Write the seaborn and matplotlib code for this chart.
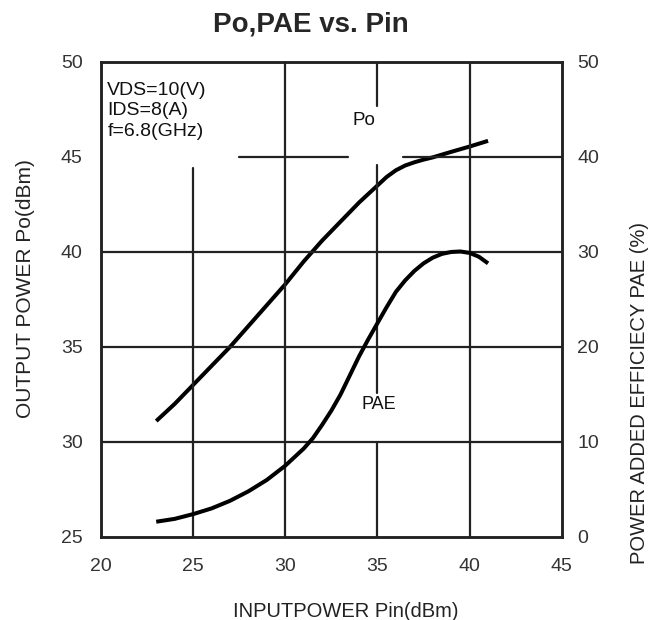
import matplotlib
matplotlib.use("Agg")
import matplotlib.pyplot as plt
import seaborn as sns
import pandas as pd

sns.set_theme(style="white")
plt.rcParams['font.family'] = ['Liberation Sans', 'DejaVu Sans']

# Data
pin_po = [23, 24, 25, 26, 27, 28, 29, 30, 31, 32, 33, 34, 35, 35.5, 36, 36.5,
          37, 37.5, 38, 39, 40, 41]
po_dbm = [31.1, 32.0, 33.0, 34.0, 35.0, 36.1, 37.2, 38.3, 39.5, 40.6, 41.6, 42.6,
          43.5, 43.95, 44.3, 44.55, 44.72, 44.86, 44.98, 45.27, 45.55, 45.85]
pin_pae = [23, 24, 25, 26, 27, 28, 29, 30, 31, 31.5, 32, 32.5, 33, 33.5, 34,
           34.5, 35, 35.5, 36, 36.5, 37, 37.5, 38, 38.5, 39, 39.5, 40, 40.5, 41]
pae_pct = [1.6, 1.9, 2.4, 3.0, 3.8, 4.8, 6.0, 7.5, 9.3, 10.4, 11.8, 13.3, 15.0,
           17.0, 19.0, 20.8, 22.5, 24.2, 25.8, 27.0, 28.0, 28.8, 29.4, 29.8,
           30.0, 30.05, 29.9, 29.5, 28.8]

x_ticks = [20, 25, 30, 35, 40, 45]
po_ticks = [25, 30, 35, 40, 45, 50]
pae_ticks = [0, 10, 20, 30, 40, 50]

df_po = pd.DataFrame({"Pin": pin_po, "Po": po_dbm})
df_pae = pd.DataFrame({"Pin": pin_pae, "PAE": pae_pct})

fig = plt.figure(figsize=(6.51, 6.20), dpi=100)
ax = fig.add_axes([0.155, 0.134, 0.708, 0.766])
ax2 = ax.twinx()

sns.lineplot(data=df_po, x="Pin", y="Po", ax=ax, color="black", linewidth=2.9,
             solid_capstyle="butt", solid_joinstyle="round")
sns.lineplot(data=df_pae, x="Pin", y="PAE", ax=ax2, color="black", linewidth=2.9,
             solid_capstyle="butt", solid_joinstyle="round")

ax.set_xlim(20, 45)
ax.set_ylim(25, 50)
ax2.set_ylim(0, 50)
ax.set_xticks(x_ticks)
ax.set_yticks(po_ticks)
ax2.set_yticks(pae_ticks)

lc = "#222222"
glw = 1.6
# grid lines (broken where the original annotations sit)
ax.axhline(30, color=lc, lw=glw)
ax.axhline(35, color=lc, lw=glw)
ax.axhline(40, color=lc, lw=glw)
ax.axhline(45, xmin=0.30, xmax=0.536, color=lc, lw=glw)
ax.axhline(45, xmin=0.656, xmax=1.0, color=lc, lw=glw)
ax.axvline(25, ymin=0.0, ymax=0.776, color=lc, lw=glw)
ax.axvline(30, color=lc, lw=glw)
ax.axvline(35, ymin=0.0, ymax=0.20, color=lc, lw=glw)
ax.axvline(35, ymin=0.304, ymax=0.784, color=lc, lw=glw)
ax.axvline(35, ymin=0.908, ymax=1.0, color=lc, lw=glw)
ax.axvline(40, color=lc, lw=glw)

for a in (ax, ax2):
    for s in a.spines.values():
        s.set_color(lc)
        s.set_linewidth(1.8)
    a.tick_params(length=0, labelsize=14, colors="#333333")

ax.tick_params(axis='y', pad=13)
ax.tick_params(axis='x', pad=15)
ax2.tick_params(axis='y', pad=11)

ax.set_xlabel("INPUTPOWER Pin(dBm)", fontsize=14.5, color="#222222")
ax.xaxis.set_label_coords(0.531, -0.136)
ax.set_ylabel("OUTPUT POWER Po(dBm)", fontsize=15, color="#222222")
ax.yaxis.set_label_coords(-0.143, 0.522)
ax2.set_ylabel("POWER ADDED EFFICIECY PAE (%)", fontsize=14.5, color="#222222")
ax2.yaxis.set_label_coords(1.147, 0.303)

ax.text(20.35, 48.95, "VDS=10(V)\nIDS=8(A)\nf=6.8(GHz)", fontsize=14,
        va="top", ha="left", color="#111111", linespacing=1.27)
ax.text(34.25, 46.9, "Po", fontsize=13.5, va="center", ha="center", color="#111111")
ax.text(35.1, 31.95, "PAE", fontsize=13, va="center", ha="center", color="#111111")

fig.suptitle("Po,PAE vs. Pin", fontsize=20, fontweight="bold", x=0.477, y=0.961,
             va="center")

fig.savefig("out.png", dpi=100)
